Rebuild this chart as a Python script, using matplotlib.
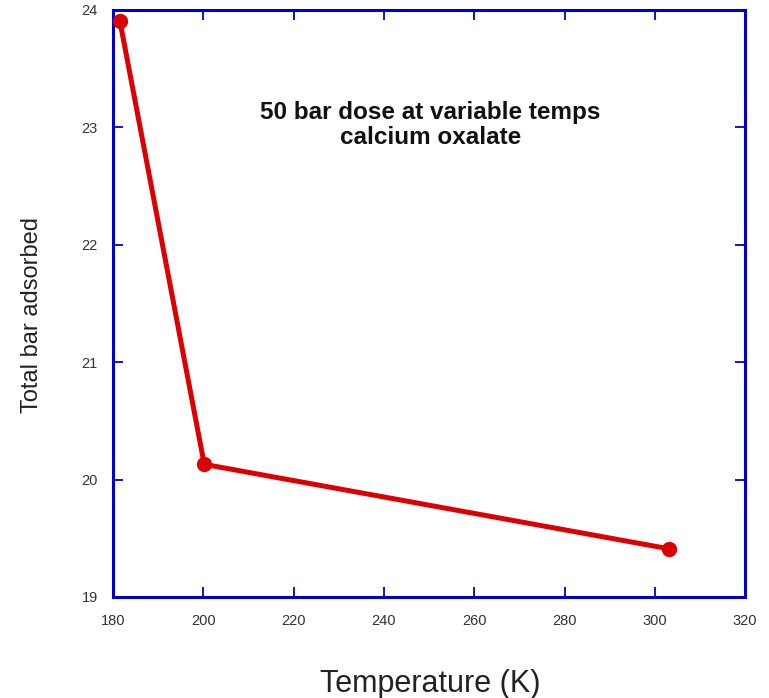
import matplotlib.pyplot as plt

plt.rcParams['font.family'] = ['Liberation Sans', 'DejaVu Sans']

# Data
temps = [181.5, 200.2, 303.2]
adsorbed = [23.91, 20.13, 19.41]
x_ticks = [180, 200, 220, 240, 260, 280, 300, 320]
y_ticks = [19, 20, 21, 22, 23, 24]

fig = plt.figure(figsize=(7.69, 6.98), dpi=100)
ax = fig.add_axes([0.147, 0.1447, 0.822, 0.841])

ax.plot(temps, adsorbed, color='#dd0000', linewidth=3.6, marker='o',
        markersize=10, clip_on=False, zorder=3)

ax.set_xlim(180, 320)
ax.set_ylim(19, 24)
ax.set_xticks(x_ticks)
ax.set_yticks(y_ticks)

for side in ax.spines.values():
    side.set_color('#0000cc')
    side.set_linewidth(2.2)

ax.tick_params(direction='in', color='#0000cc', width=1.3, length=7,
               top=True, right=True, labelsize=10.5, labelcolor='#333333')
ax.tick_params(axis='x', pad=12)
ax.tick_params(axis='y', pad=11)

ax.text(0.502, 0.804, '50 bar dose at variable temps\ncalcium oxalate',
        transform=ax.transAxes, ha='center', va='center',
        fontsize=17.5, fontweight='bold', linespacing=1.1, color='#111111')

fig.text(0.042, 0.549, 'Total bar adsorbed', rotation=90, ha='center',
         va='center', fontsize=17, color='#222222')
fig.text(0.559, 0.02, 'Temperature (K)', ha='center', va='center',
         fontsize=22, color='#222222')

fig.savefig('out.png', dpi=100)
